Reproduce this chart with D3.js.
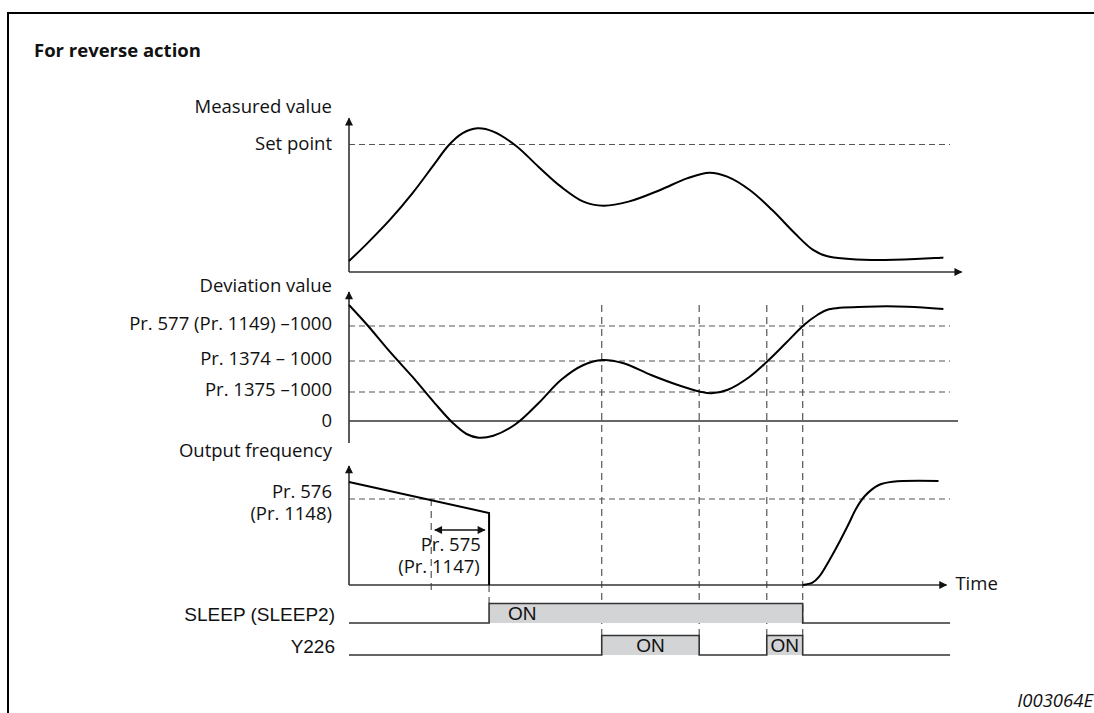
<!DOCTYPE html>
<html>
<head>
<meta charset="utf-8">
<script src="https://cdn.jsdelivr.net/npm/d3@7"></script>
<style>
  body { margin: 0; background: #fff; }
  svg { display: block; }
  .lbl { font-family: "Open Sans", "Noto Sans", sans-serif; font-size: 18.5px; fill: #111; }
  .sig { font-family: "Liberation Sans", Arial, sans-serif; font-size: 19px; fill: #111; }
</style>
</head>
<body>
<svg id="chart" width="1094" height="713"></svg>
<script>
// time runs 0..100 across all panels
const measured = [[0, 7.3], [3, 19.1], [6.7, 34.7], [10.4, 52.4], [14.1, 72.4], [16.3, 84.2], [18.6, 92.4],
  [21.1, 95.8], [23.7, 93.6], [27.4, 84.2], [31.1, 70.2], [34.8, 56.9], [38.5, 46.9], [41.8, 44.2],
  [45.9, 46.9], [51.1, 54.7], [55.5, 62.4], [59.2, 66.2], [62.1, 63.6], [65.8, 54.7], [69.5, 41.3],
  [73.2, 25.8], [76.2, 14.7], [78.4, 10.7], [85.8, 8], [97.6, 9.6]]
const setPoint = 85

const deviation = [[0, 116], [3, 96], [6.7, 69.3], [10.4, 44.3], [14.1, 17.7], [17.1, -2.3], [19.3, -13],
  [21.3, -16.7], [23.7, -14.7], [27.4, -3], [31.1, 17.7], [34.8, 41], [38.5, 56], [41.6, 61],
  [45.1, 57.7], [49.6, 46], [54, 36], [57.7, 29.3], [59.5, 27.7], [62.1, 31], [65.8, 44.3],
  [68.8, 60.3], [71.7, 77.7], [74.7, 96], [76.9, 106], [78.8, 111.7], [85, 114.3], [91.7, 114.3], [97.6, 112]]
const devLevels = ["Pr. 577 (Pr. 1149) \u20131000", "Pr. 1374 \u2013 1000", "Pr. 1375 \u20131000"]
const devValues = [95, 60, 29]

const freqBefore = [[0, 103], [23, 72], [23, 0]]
const freqAfter = [[74.5, 0], [76.1, 2.3], [77.2, 8.3], [78.9, 25], [80.7, 45], [82.1, 61.7], [83.3, 76.7],
  [84.7, 89], [87, 100], [89.3, 103.3], [96.8, 104]]
const sleepLevel = 86
const sleepDelay = [14.1, 22.3]

const eventTimes = [41.5, 57.5, 68.6, 74.5]
const signals = ["SLEEP (SLEEP2)", "Y226"]
const sleepOn = [[23, 74.5]]
const y226On = [[41.5, 57.5], [68.6, 74.5]]

var svg = d3.select("#chart")
const AXIS = "#333"
const DASH = "#555"
const LABEL_X = 332

// frame + title
svg.append("rect").attr("x", 8).attr("y", 13).attr("width", 2000).attr("height", 2000)
  .attr("fill", "none").attr("stroke", "#000").attr("stroke-width", 2)
svg.append("text").attr("class", "lbl").attr("x", 34).attr("y", 57)
  .attr("font-weight", 700).attr("font-size", 19).text("For reverse action")
svg.append("text").attr("class", "lbl").attr("x", 1093).attr("y", 707).attr("text-anchor", "end")
  .attr("font-size", 11).attr("font-style", "italic").text("I003064E")

var defs = svg.append("defs")
defs.append("marker").attr("id", "arr").attr("viewBox", "0 0 10 10")
  .attr("refX", 9).attr("refY", 5).attr("markerWidth", 10).attr("markerHeight", 8)
  .attr("markerUnits", "userSpaceOnUse").attr("orient", "auto-start-reverse")
  .append("path").attr("d", "M0,0 L10,5 L0,10 z").attr("fill", "#111")

var x = d3.scaleLinear().domain([0, 100]).range([349, 958])
var yM = d3.scaleLinear().domain([0, 100]).range([272, 122])
var yD = d3.scaleLinear().domain([0, 100]).range([421, 321])
var yO = d3.scaleLinear().domain([0, 100]).range([585, 485])
var rowY = d3.scalePoint().domain(signals).range([623, 655])
var lv = d3.scaleLinear().domain([0, 1]).range([0, -19.5])
var smooth = d3.curveCatmullRom.alpha(0.5)

function hline(y, t0, t1, dashed, color) {
  return svg.append("line").attr("x1", x(t0)).attr("x2", x(t1)).attr("y1", y).attr("y2", y)
    .attr("stroke", color || (dashed ? DASH : AXIS)).attr("stroke-width", dashed ? 1.2 : 1.6)
    .attr("stroke-dasharray", dashed ? "6,4" : null)
}
function vline(t, y0, y1, dashed) {
  return svg.append("line").attr("x1", x(t)).attr("x2", x(t)).attr("y1", y0).attr("y2", y1)
    .attr("stroke", dashed ? DASH : AXIS).attr("stroke-width", dashed ? 1.2 : 1.6)
    .attr("stroke-dasharray", dashed ? "7,5" : null)
}
function label(txt, xp, yp, cls, anchor) {
  return svg.append("text").attr("class", cls || "lbl").attr("x", xp).attr("y", yp)
    .attr("text-anchor", anchor || "end").text(txt)
}

// event guides
eventTimes.forEach(t => vline(t, yD(116), rowY("Y226") + lv(1), true))
vline(23, yO(0), rowY(signals[0]) + lv(1), true)
vline(sleepDelay[0] - 0.6, yO(sleepLevel), yO(-5), true)

// ---- measured value ----
hline(yM(setPoint), 0, 98.7, true)
vline(0, yM(0), yM(102.5)).attr("marker-end", "url(#arr)")
hline(yM(0), 0, 100.6).attr("marker-end", "url(#arr)")
label("Measured value", LABEL_X, 113)
label("Set point", LABEL_X, yM(setPoint) + 5)
svg.append("path").datum(measured)
  .attr("d", d3.line().x(d => x(d[0])).y(d => yM(d[1])).curve(smooth))
  .attr("fill", "none").attr("stroke", "#000").attr("stroke-width", 2)

// ---- deviation ----
devValues.forEach((v, i) => {
  hline(yD(v), 0, 98.7, true)
  label(devLevels[i], LABEL_X, yD(v) + 4)
})
hline(yD(0), 0, 100)
label("0", LABEL_X, yD(0) + 6)
vline(0, yD(-22), yD(129)).attr("marker-end", "url(#arr)")
label("Deviation value", LABEL_X, 292)
svg.append("path").datum(deviation)
  .attr("d", d3.line().x(d => x(d[0])).y(d => yD(d[1])).curve(smooth))
  .attr("fill", "none").attr("stroke", "#000").attr("stroke-width", 2)

// ---- output frequency ----
hline(yO(sleepLevel), 0, 98.7, true)
vline(0, yO(0), yO(119)).attr("marker-end", "url(#arr)")
hline(yO(0), 0, 98.1).attr("marker-end", "url(#arr)")
label("Output frequency", LABEL_X, 457)
label("Pr. 576", LABEL_X, yO(sleepLevel) - 1)
label("(Pr. 1148)", LABEL_X, yO(sleepLevel) + 21)
label("Time", x(98.1) + 9, yO(0) + 5, "lbl", "start")
svg.append("path").datum(freqBefore)
  .attr("d", d3.line().x(d => x(d[0])).y(d => yO(d[1])))
  .attr("fill", "none").attr("stroke", "#000").attr("stroke-width", 2)
svg.append("path").datum(freqAfter)
  .attr("d", d3.line().x(d => x(d[0])).y(d => yO(d[1])).curve(smooth))
  .attr("fill", "none").attr("stroke", "#000").attr("stroke-width", 2)
svg.append("line").attr("x1", x(sleepDelay[0])).attr("x2", x(sleepDelay[1]))
  .attr("y1", yO(55)).attr("y2", yO(55)).attr("stroke", "#111").attr("stroke-width", 1.5)
  .attr("marker-start", "url(#arr)").attr("marker-end", "url(#arr)")
label("Pr. 575", x(sleepDelay[1]) - 4, yO(34))
label("(Pr. 1147)", x(sleepDelay[1]) - 5, yO(12))

// ---- on/off signals ----
function drawSignal(name, intervals, textMode) {
  var base = rowY(name)
  var pts = [[0, 0]]
  intervals.forEach(iv => { pts.push([iv[0], 0], [iv[0], 1], [iv[1], 1], [iv[1], 0]) })
  pts.push([98.7, 0])
  intervals.forEach(iv => {
    svg.append("rect").attr("x", x(iv[0])).attr("y", base + lv(1))
      .attr("width", x(iv[1]) - x(iv[0])).attr("height", lv(0) - lv(1)).attr("fill", "#d3d4d6")
  })
  svg.append("path").datum(pts)
    .attr("d", d3.line().x(d => x(d[0])).y(d => base + lv(d[1])))
    .attr("fill", "none").attr("stroke", AXIS).attr("stroke-width", 1.6)
  intervals.forEach(iv => {
    var atStart = textMode === "start"
    svg.append("text").attr("class", "sig").attr("font-size", 16)
      .attr("x", atStart ? x(iv[0]) + 19 : (x(iv[0]) + x(iv[1])) / 2)
      .attr("y", base - 3).attr("text-anchor", atStart ? "start" : "middle").text("ON")
  })
  label(name, 335, base - 2, "sig")
}
drawSignal(signals[0], sleepOn, "start")
drawSignal(signals[1], y226On, "middle")
</script>
</body>
</html>
